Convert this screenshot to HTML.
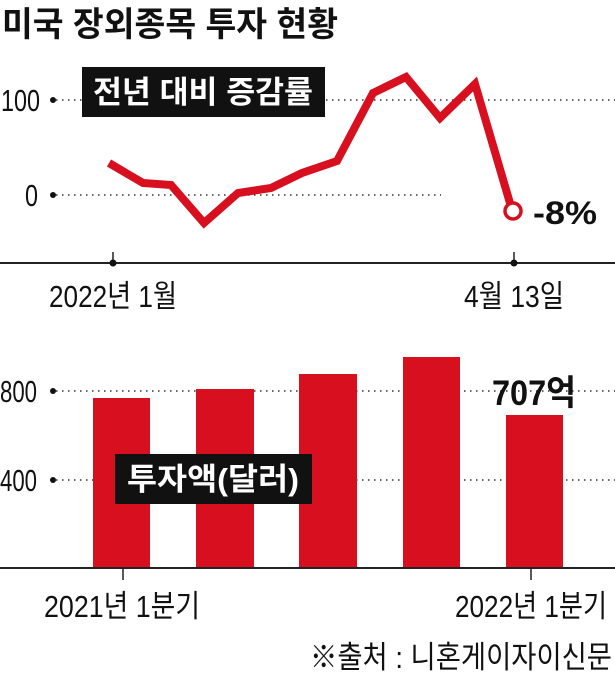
<!DOCTYPE html>
<html><head><meta charset="utf-8"><style>
body{margin:0;background:#fff;}
svg text{font-family:"Liberation Sans","Noto Sans CJK KR",sans-serif;}
</style></head><body>
<svg width="615" height="673" viewBox="0 0 615 673" xmlns="http://www.w3.org/2000/svg">
<text x="2" y="36" font-size="34" font-weight="bold" fill="#111" textLength="336" lengthAdjust="spacingAndGlyphs">미국 장외종목 투자 현황</text>
<g stroke="#333" stroke-width="1.6" stroke-dasharray="1.5,4.5">
<line x1="56" y1="100" x2="615" y2="100"/>
<line x1="56" y1="195" x2="441" y2="195"/>
</g>
<circle cx="53" cy="100" r="3" fill="#111"/><circle cx="53" cy="195" r="3" fill="#111"/>
<g font-size="31" fill="#111">
<text x="1" y="111" textLength="39" lengthAdjust="spacingAndGlyphs">100</text>
<text x="25" y="206" textLength="13" lengthAdjust="spacingAndGlyphs">0</text>
</g>
<rect x="82" y="67" width="243" height="50" fill="#111"/>
<text x="203" y="103" font-size="31" font-weight="bold" fill="#fff" text-anchor="middle" textLength="220" lengthAdjust="spacingAndGlyphs">전년 대비 증감률</text>
<polyline points="109,163 143,183 171,185 204,223 238,193 271,188 302,173 337,161 373,93 406,77 440,118 475,84 512,210" fill="none" stroke="#d70f1e" stroke-width="8" stroke-linejoin="miter"/>
<circle cx="513" cy="211" r="8" fill="#fff" stroke="#d70f1e" stroke-width="3.5"/>
<text x="533" y="224" font-size="32" font-weight="bold" fill="#111" textLength="64" lengthAdjust="spacingAndGlyphs">-8%</text>
<line x1="0" y1="263" x2="615" y2="263" stroke="#222" stroke-width="2"/>
<line x1="113" y1="252" x2="113" y2="263" stroke="#222" stroke-width="1.5"/>
<line x1="514" y1="252" x2="514" y2="263" stroke="#222" stroke-width="1.5"/>
<circle cx="113" cy="263" r="3.5" fill="#111"/><circle cx="514" cy="263" r="3.5" fill="#111"/>
<g font-size="31" fill="#111">
<text x="113" y="307" text-anchor="middle" textLength="128" lengthAdjust="spacingAndGlyphs">2022년 1월</text>
<text x="514" y="307" text-anchor="middle" textLength="100" lengthAdjust="spacingAndGlyphs">4월 13일</text>
</g>
<g stroke="#333" stroke-width="1.6" stroke-dasharray="1.5,4.5">
<line x1="56" y1="391" x2="615" y2="391"/>
<line x1="56" y1="480" x2="615" y2="480"/>
</g>
<circle cx="53" cy="391" r="3" fill="#111"/><circle cx="53" cy="480" r="3" fill="#111"/>
<g font-size="31" fill="#111">
<text x="0" y="402" textLength="37" lengthAdjust="spacingAndGlyphs">800</text>
<text x="0" y="491" textLength="37" lengthAdjust="spacingAndGlyphs">400</text>
</g>
<g fill="#d70f1e">
<rect x="93" y="398" width="57" height="170"/>
<rect x="196" y="389" width="58" height="179"/>
<rect x="299" y="374" width="58" height="194"/>
<rect x="403" y="357" width="57" height="211"/>
<rect x="506" y="415" width="57" height="153"/>
</g>
<rect x="115" y="454" width="197" height="50" fill="#111"/>
<text x="213" y="490" font-size="31" font-weight="bold" fill="#fff" text-anchor="middle" textLength="172" lengthAdjust="spacingAndGlyphs">투자액(달러)</text>
<text x="492" y="405" font-size="35" font-weight="bold" fill="#111" textLength="84" lengthAdjust="spacingAndGlyphs">707억</text>
<line x1="0" y1="568" x2="615" y2="568" stroke="#222" stroke-width="2"/>
<line x1="123" y1="568" x2="123" y2="580" stroke="#222" stroke-width="1.5"/>
<line x1="531" y1="568" x2="531" y2="580" stroke="#222" stroke-width="1.5"/>
<g font-size="31" fill="#111">
<text x="44" y="617" textLength="156" lengthAdjust="spacingAndGlyphs">2021년 1분기</text>
<text x="455" y="617" textLength="152" lengthAdjust="spacingAndGlyphs">2022년 1분기</text>
<text x="612" y="668" text-anchor="end" textLength="302" lengthAdjust="spacingAndGlyphs">※출처 : 니혼게이자이신문</text>
</g>
</svg>
</body></html>
